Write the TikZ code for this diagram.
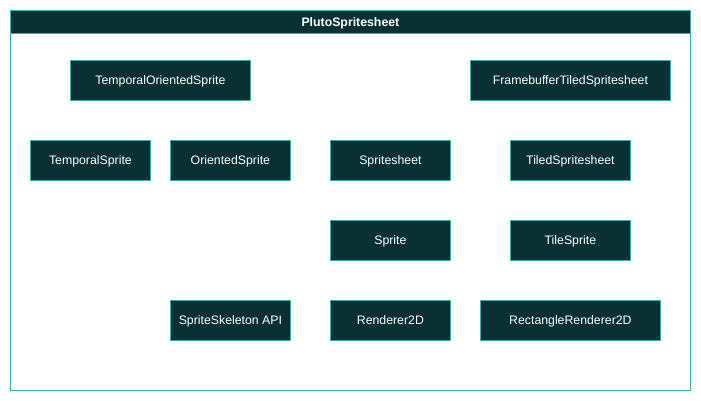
\documentclass[tikz,border=0pt]{standalone}
\usepackage{fontspec}
\setmainfont{Liberation Sans}
\definecolor{boxfill}{HTML}{093134}
\definecolor{boxline}{HTML}{3AAFAF}
\begin{document}
\begin{tikzpicture}[x=1pt,y=-1pt,
  comp/.style={draw=boxline,fill=boxfill,text=white,line width=0.8pt,font=\fontsize{12.3}{14}\selectfont,inner sep=0pt,text height=8.8pt,text depth=0pt,anchor=north west}]
\useasboundingbox (0,0) rectangle (701,401);
\fill[white] (0,0) rectangle (701,401);
\node[draw=boxline,line width=0.8pt,minimum width=680pt,minimum height=380pt,inner sep=0pt,anchor=north west] (frame) at (10,10) {};
\node[draw=boxline,fill=boxfill,line width=0.8pt,minimum width=680pt,minimum height=23pt,inner sep=0pt,text height=8.8pt,text depth=0pt,anchor=north west,text=white,font=\bfseries\fontsize{12.3}{14}\selectfont] (title) at (10,10) {PlutoSpritesheet};
\node[comp,minimum width=180pt,minimum height=40pt] (tos) at (70,60) {TemporalOrientedSprite};
\node[comp,minimum width=200pt,minimum height=40pt] (fts) at (470,60) {FramebufferTiledSpritesheet};
\node[comp,minimum width=120pt,minimum height=40pt] (ts) at (30,140) {TemporalSprite};
\node[comp,minimum width=120pt,minimum height=40pt] (os) at (170,140) {OrientedSprite};
\node[comp,minimum width=120pt,minimum height=40pt] (ss) at (330,140) {Spritesheet};
\node[comp,minimum width=120pt,minimum height=40pt] (tss) at (510,140) {TiledSpritesheet};
\node[comp,minimum width=120pt,minimum height=40pt] (sp) at (330,220) {Sprite};
\node[comp,minimum width=120pt,minimum height=40pt] (tsp) at (510,220) {TileSprite};
\node[comp,minimum width=120pt,minimum height=40pt] (ssk) at (170,300) {SpriteSkeleton API};
\node[comp,minimum width=120pt,minimum height=40pt] (r2d) at (330,300) {Renderer2D};
\node[comp,minimum width=180pt,minimum height=40pt] (rr2d) at (480,300) {RectangleRenderer2D};
\end{tikzpicture}
\end{document}
